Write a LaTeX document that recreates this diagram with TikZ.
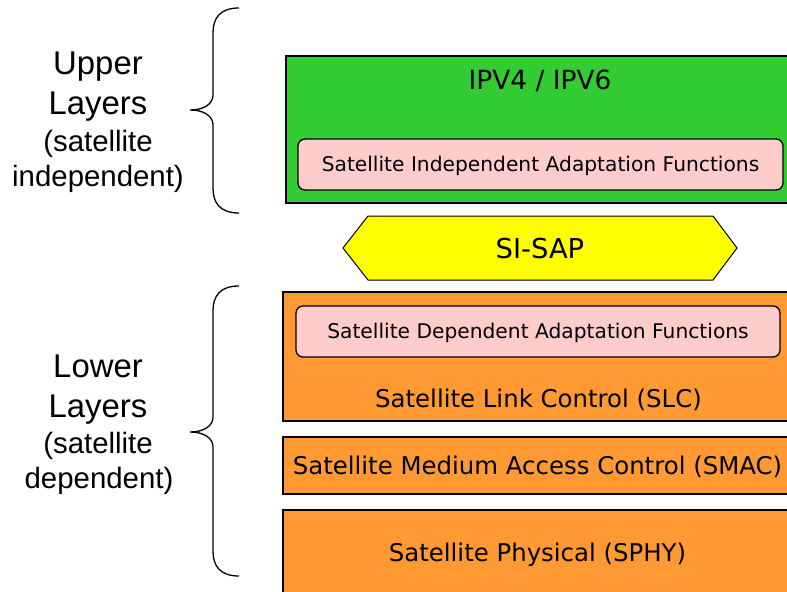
\documentclass[tikz,border=0pt]{standalone}
\usepackage{fontspec}
\setmainfont{Liberation Sans}
\newfontfamily\boxfont{DejaVu Sans}
\usepackage{xcolor}
\definecolor{ipgreen}{RGB}{51,204,51}
\definecolor{slcorange}{RGB}{255,153,51}
\definecolor{adaptpink}{RGB}{255,204,204}
\definecolor{sapyellow}{RGB}{255,255,0}

\begin{document}
\begin{tikzpicture}[
  x=1bp, y=-1bp,
  layer/.style={draw, line width=2bp, inner sep=0pt, font=\boxfont\fontsize{24.5}{28}\selectfont, text height=17.8bp, text depth=0pt}, % protocol layers
  adapt/.style={draw, line width=1.3bp, fill=adaptpink, rounded corners=7bp, inner sep=0pt, font=\boxfont\fontsize{20.3}{24}\selectfont, text height=14.8bp, text depth=0pt}, % adaptation functions
  bigword/.style={anchor=base, font=\fontsize{33}{40}\selectfont},
  smallword/.style={anchor=base, font=\fontsize{29.5}{35}\selectfont}
]
\clip (0,0) rectangle (787,592);

% Upper layers
\node[layer, fill=ipgreen, minimum width=506bp, minimum height=147bp] (ip) at (539,129.5) {};
\node[anchor=base, font=\boxfont\fontsize{26.5}{30}\selectfont] (iptext) at (540,90) {IPV4 / IPV6};
\node[adapt, minimum width=485bp, minimum height=51bp] (siaf) at (540.5,164.5) {Satellite Independent Adaptation Functions};

% Service access point
\filldraw[fill=sapyellow, line width=1bp] (343,248) -- (368,216) -- (713,216) -- (737,248) -- (713,280) -- (368,280) -- cycle;
\node[font=\boxfont\fontsize{27.5}{30}\selectfont, text height=20bp, text depth=0pt, inner sep=0pt] (sisap) at (540,248) {SI-SAP};

% Lower layers
\node[layer, fill=slcorange, minimum width=509bp, minimum height=129bp] (slc) at (537.5,356.5) {};
\node[anchor=base, font=\boxfont\fontsize{24.5}{28}\selectfont] (slctext) at (538.5,407) {Satellite Link Control (SLC)};
\node[adapt, minimum width=484bp, minimum height=51bp] (sdaf) at (538,331.5) {Satellite Dependent Adaptation Functions};
\node[layer, fill=slcorange, minimum width=509bp, minimum height=57bp] (smac) at (537.5,465.5) {Satellite Medium Access Control (SMAC)};
\node[layer, fill=slcorange, minimum width=509bp, minimum height=85bp] (sphy) at (537.5,552.5) {Satellite Physical (SPHY)};

% Braces
\foreach \ya/\yb/\yc in {8/110/213, 286/432/576}
  \draw[line width=1.3bp] (239,\ya) .. controls (220,\ya) and (213,\ya+10) .. (213,\ya+25)
    -- (213,\yb-15) .. controls (213,\yb-6) and (204,\yb) .. (190,\yb)
    .. controls (204,\yb) and (213,\yb+6) .. (213,\yb+15)
    -- (213,\yc-25) .. controls (213,\yc-10) and (220,\yc) .. (239,\yc);

% Brace labels
\node[bigword] (upper) at (98,75) {Upper};
\node[bigword] (upperlayers) at (98,115) {Layers};
\node[smallword] (uppersat) at (98,152) {(satellite};
\node[smallword] (upperind) at (98,187) {independent)};
\node[bigword] (lower) at (98,377) {Lower};
\node[bigword] (lowerlayers) at (98,417) {Layers};
\node[smallword] (lowersat) at (98,453) {(satellite};
\node[smallword] (lowerdep) at (99,488) {dependent)};
\end{tikzpicture}
\end{document}
